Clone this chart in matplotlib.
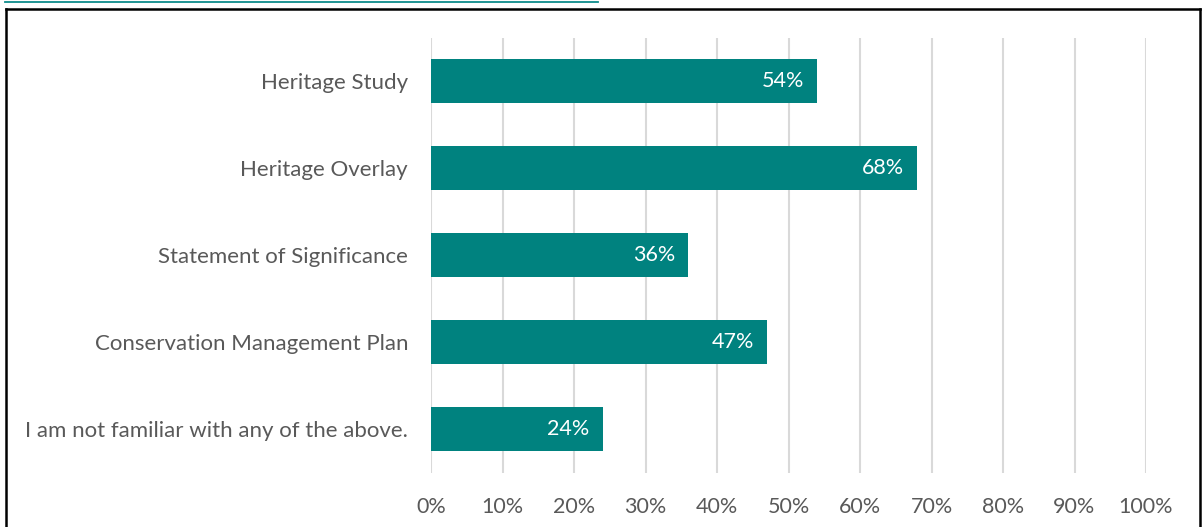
import matplotlib
matplotlib.use("Agg")
import matplotlib.pyplot as plt
from matplotlib.lines import Line2D

categories = [
    "Heritage Study",
    "Heritage Overlay",
    "Statement of Significance",
    "Conservation Management Plan",
    "I am not familiar with any of the above.",
]
values = [54, 68, 36, 47, 24]
xticks = [0, 10, 20, 30, 40, 50, 60, 70, 80, 90, 100]

W, H = 1203, 527
fig = plt.figure(figsize=(W / 100, H / 100), dpi=100)
plt.rcParams["font.family"] = ["Lato", "DejaVu Sans"]

bar_color = "#00827F"
text_color = "#595959"
grid_color = "#D9D9D9"

ax = fig.add_axes([431 / W, 1 - 472.5 / H, (1146 - 431) / W, (472.5 - 37.5) / H])
ypos = list(range(len(categories)))
ax.barh(ypos, values, height=0.5, color=bar_color, zorder=3)
for y, v in zip(ypos, values):
    ax.text(v - 1.8, y, f"{v}%", color="white", fontsize=15.5, ha="right", va="center", zorder=4)

ax.set_xlim(0, 100)
ax.set_ylim(len(categories) - 0.5, -0.5)
ax.set_yticks(ypos)
ax.set_yticklabels(categories, fontsize=16, color=text_color)
ax.set_xticks(xticks)
ax.set_xticklabels([f"{t}%" for t in xticks], fontsize=15.5, color=text_color)
ax.tick_params(axis="both", length=0)
ax.tick_params(axis="y", pad=16.5)
ax.tick_params(axis="x", pad=17.5)
ax.xaxis.grid(True, color=grid_color, linewidth=1.5, zorder=0)
for s in ax.spines.values():
    s.set_visible(False)

# Outer frame (bottom edge runs off the page)
for xs, ys in [([6, 6], [H + 5, 9]), ([6, 1200], [9, 9]), ([1200, 1200], [9, H + 5])]:
    fig.add_artist(Line2D([x / W for x in xs], [1 - y / H for y in ys],
                          color="black", linewidth=1.8, transform=fig.transFigure))

# Underline of the caption link above the frame
fig.add_artist(Line2D([5 / W, 598 / W], [1 - 2 / H, 1 - 2 / H], color="#0E8C8C",
                      linewidth=1.3, transform=fig.transFigure))

fig.savefig("out.png", dpi=100)
